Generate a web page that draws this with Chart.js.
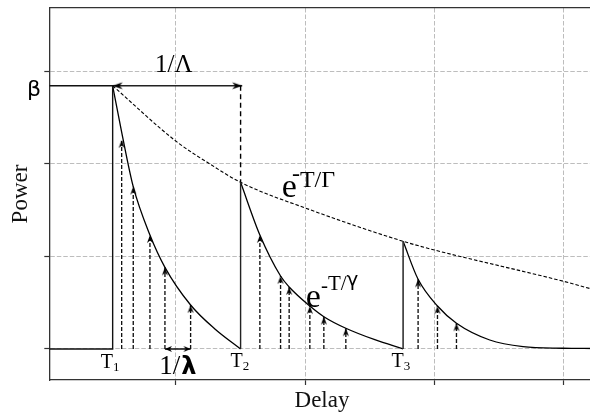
<!DOCTYPE html>
<html><head><meta charset="utf-8">
<script src="https://cdn.jsdelivr.net/npm/chart.js@4.4.0/dist/chart.umd.min.js"></script>
<style>
html,body{margin:0;padding:0;overflow:hidden;background:#fff;width:590px;height:413px}
#wrap{width:600px;height:413px;position:relative}
</style></head>
<body><div id="wrap"><canvas id="c" width="600" height="413"></canvas></div>
<script>
// ---------- data ----------
const xTicks = [1, 2, 3, 4];
const yTicks = [0, 1, 2, 3];
const xRange = [0.0205, 4.239];
const yRange = [-0.335, 3.683];

const clusterT = [0.5106, 1.5002, 2.7573];      // T1, T2, T3
const clusterPeak = [2.843, 1.80, 1.163];        // peak power of each cluster
const beta = 2.843;
const bigLambdaEnd = 1.5126;                     // right end of 1/Λ arrow
const smallLambda = [0.9150, 1.1136];            // ends of 1/λ arrow

const c1X = [0.5106, 0.5802, 0.6699, 0.7990, 0.9150, 1.1136, 1.3015, 1.5002];
const c1Y = [2.843, 2.343, 1.753, 1.231, 0.882, 0.475, 0.216, 0.0];
const c2X = [1.5002, 1.6494, 1.8094, 1.8759, 2.0360, 2.1442, 2.3143, 2.5385, 2.7573];
const c2Y = [1.80, 1.231, 0.788, 0.67, 0.464, 0.349, 0.224, 0.10, 0.0];
const c3X = [2.7573, 2.8733, 3.0232, 3.1701, 3.4275, 3.6850, 3.9919, 4.239];
const c3Y = [1.163, 0.753, 0.464, 0.278, 0.097, 0.025, 0.008, 0.005];
const gX = [0.5106, 1.0054, 1.2629, 1.5002, 2.0360, 2.7573, 3.0000, 3.9981, 4.239];
const gY = [2.843, 2.239, 1.998, 1.80, 1.505, 1.163, 1.069, 0.731, 0.639];

const ray1X = [0.5802, 0.6699, 0.7990, 0.9150, 1.1136];
const ray1Top = [2.257, 1.753, 1.231, 0.882, 0.475];
const ray2X = [1.6494, 1.8094, 1.8759, 2.0360, 2.1442, 2.3143];
const ray2Top = [1.231, 0.788, 0.67, 0.464, 0.349, 0.224];
const ray3X = [2.8733, 3.0232, 3.1701];
const ray3Top = [0.753, 0.464, 0.278];

// ---------- helpers ----------
function arrowHead(len, wid, notch) {
  const s = Math.ceil(len * 2 + 4);
  const c = document.createElement('canvas');
  c.width = s; c.height = s;
  const g = c.getContext('2d');
  const cx = s / 2, cy = s / 2;
  g.fillStyle = '#000';
  g.beginPath();
  g.moveTo(cx, cy);
  g.lineTo(cx - wid / 2, cy + len);
  g.lineTo(cx, cy + len * notch);
  g.lineTo(cx + wid / 2, cy + len);
  g.closePath();
  g.fill();
  return c;
}
const headSmall = arrowHead(8, 6, 0.68);
const headBig = arrowHead(10, 7, 0.7);
const headTiny = arrowHead(7, 6, 0.7);

const pts = (xs, ys) => xs.map((x, i) => ({x, y: ys[i]}));
const datasets = [];
function addLine(points, opts) {
  datasets.push(Object.assign({
    data: points, borderColor: '#000', borderWidth: 1.3, pointRadius: 0,
    fill: false, tension: 0, showLine: true
  }, opts));
}

// frame of cluster 1 start: β level, T1 vertical, baseline
addLine([{x: xRange[0], y: beta}, {x: clusterT[0], y: beta}, {x: clusterT[0], y: 0}, {x: xRange[0], y: 0}], {borderColor: '#111', borderWidth: 1.4});
// T2 and T3 verticals
addLine([{x: clusterT[1], y: 0}, {x: clusterT[1], y: clusterPeak[1]}], {borderColor: '#222', borderWidth: 1.4});
addLine([{x: clusterT[2], y: 0}, {x: clusterT[2], y: clusterPeak[2]}], {borderColor: '#333', borderWidth: 1.6});
// dashed continuation above T2
addLine([{x: clusterT[1], y: beta}, {x: clusterT[1], y: clusterPeak[1]}], {borderDash: [5, 3.5], borderWidth: 1.4});
// cluster decays
[[c1X, c1Y], [c2X, c2Y], [c3X, c3Y]].forEach(([xs, ys]) =>
  addLine(pts(xs, ys), {cubicInterpolationMode: 'monotone', borderWidth: 1.3}));
// Γ envelope
addLine(pts(gX, gY), {cubicInterpolationMode: 'monotone', borderDash: [3.5, 2], borderWidth: 1.1});
// rays
[[ray1X, ray1Top], [ray2X, ray2Top], [ray3X, ray3Top]].forEach(([xs, tops]) => {
  xs.forEach((x, i) => addLine([{x, y: 0}, {x, y: tops[i]}], {
    borderDash: [4, 2], borderWidth: 1.35, borderColor: '#111',
    pointRadius: [0, 3], pointStyle: headSmall, pointRotation: 0
  }));
});
// 1/Λ arrow
addLine([{x: clusterT[0], y: beta}, {x: bigLambdaEnd, y: beta}], {
  borderColor: '#222', borderWidth: 1.3, pointRadius: [3, 3], pointStyle: headBig, pointRotation: [-90, 90]
});
// 1/λ arrow
addLine([{x: smallLambda[0], y: 0}, {x: smallLambda[1], y: 0}], {
  borderColor: '#111', borderWidth: 1.3, pointRadius: [3, 3], pointStyle: headTiny, pointRotation: [-90, 90]
});

// ---------- text annotations ----------
const serif = '"Liberation Serif", "DejaVu Serif", serif';
const sans = '"DejaVu Sans", sans-serif';
const labels = [
  {x: -0.1519, y: 2.732, runs: [{t: 'β', f: '22px ' + sans}]},
  {x: 0.8377, y: 2.9946, runs: [{t: '1/Λ', f: '25px ' + serif}]},
  {x: 1.8195, y: 1.6447, runs: [{t: 'e', f: '34px ' + serif}, {t: '-', f: '24px ' + serif, dx: -5, dy: -16}, {t: 'T/Γ', f: '24px ' + serif, dy: -9.4}]},
  {x: 2.005, y: 0.4568, runs: [{t: 'e', f: '34px ' + serif}, {t: '-', f: '21px ' + serif, dx: 0, dy: -15}, {t: 'T/', f: '21px ' + serif, dy: -16.7}, {t: 'γ', f: '20px ' + sans, dy: -20.5}]},
  {x: 0.4179, y: -0.2084, runs: [{t: 'T', f: '20px ' + serif}, {t: '1', f: '13px ' + serif, dy: 3}]},
  {x: 1.4229, y: -0.1911, runs: [{t: 'T', f: '20px ' + serif}, {t: '2', f: '13px ' + serif, dy: 3}]},
  {x: 2.6676, y: -0.1911, runs: [{t: 'T', f: '20px ' + serif}, {t: '3', f: '13px ' + serif, dy: 3}]},
  {x: 0.8709, y: -0.27, runs: [{t: '1/', f: '27px ' + serif}, {t: 'λ', f: 'bold 24px ' + sans, dx: 1}]}
];
const labelPlugin = {
  id: 'labels',
  afterDatasetsDraw(chart) {
    const ctx = chart.ctx, xs = chart.scales.x, ys = chart.scales.y;
    ctx.save();
    ctx.fillStyle = '#000';
    ctx.textBaseline = 'alphabetic';
    ctx.textAlign = 'left';
    labels.forEach(l => {
      let px = xs.getPixelForValue(l.x);
      const py = ys.getPixelForValue(l.y);
      l.runs.forEach(r => {
        ctx.font = r.f;
        px += (r.dx || 0);
        ctx.fillText(r.t, px, py + (r.dy || 0));
        px += ctx.measureText(r.t).width;
      });
    });
    ctx.restore();
  }
};

const gridOpts = {color: '#bdbdbd', lineWidth: 1, drawTicks: true, tickLength: 5, tickColor: '#333', tickWidth: 1.2, tickBorderDash: []};
const borderOpts = {display: true, color: '#333', width: 1.3, dash: [4.5, 2]};

new Chart(document.getElementById('c'), {
  type: 'line',
  data: {datasets},
  plugins: [labelPlugin],
  options: {
    responsive: false, animation: false, devicePixelRatio: 1,
    layout: {padding: {left: 0, right: 5, top: 0, bottom: 0}},
    plugins: {legend: {display: false}, tooltip: {enabled: false}},
    scales: {
      x: {
        type: 'linear', position: 'bottom', min: xRange[0], max: xRange[1],
        afterBuildTicks: s => { s.ticks = xTicks.map(v => ({value: v})); },
        afterFit: s => { s.height = 33; },
        ticks: {display: false}, grid: gridOpts, border: borderOpts,
        title: {display: true, text: 'Delay', color: '#111', font: {family: 'Liberation Serif', size: 23, lineHeight: 1}, padding: {top: 0, bottom: 0.5}}
      },
      xTop: {
        type: 'linear', position: 'top', min: xRange[0], max: xRange[1],
        afterFit: s => { s.height = 8; },
        ticks: {display: false}, grid: {display: false, drawTicks: false},
        border: {display: true, color: '#333', width: 1.3}
      },
      y: {
        type: 'linear', position: 'left', min: yRange[0], max: yRange[1],
        afterBuildTicks: s => { s.ticks = yTicks.map(v => ({value: v})); },
        afterFit: s => { s.width = 49.3; },
        ticks: {display: false}, grid: gridOpts, border: borderOpts,
        title: {display: true, text: 'Power', color: '#111', font: {family: 'Liberation Serif', size: 23}, padding: {top: 7, bottom: 0}}
      }
    }
  }
});
</script>
</body></html>
